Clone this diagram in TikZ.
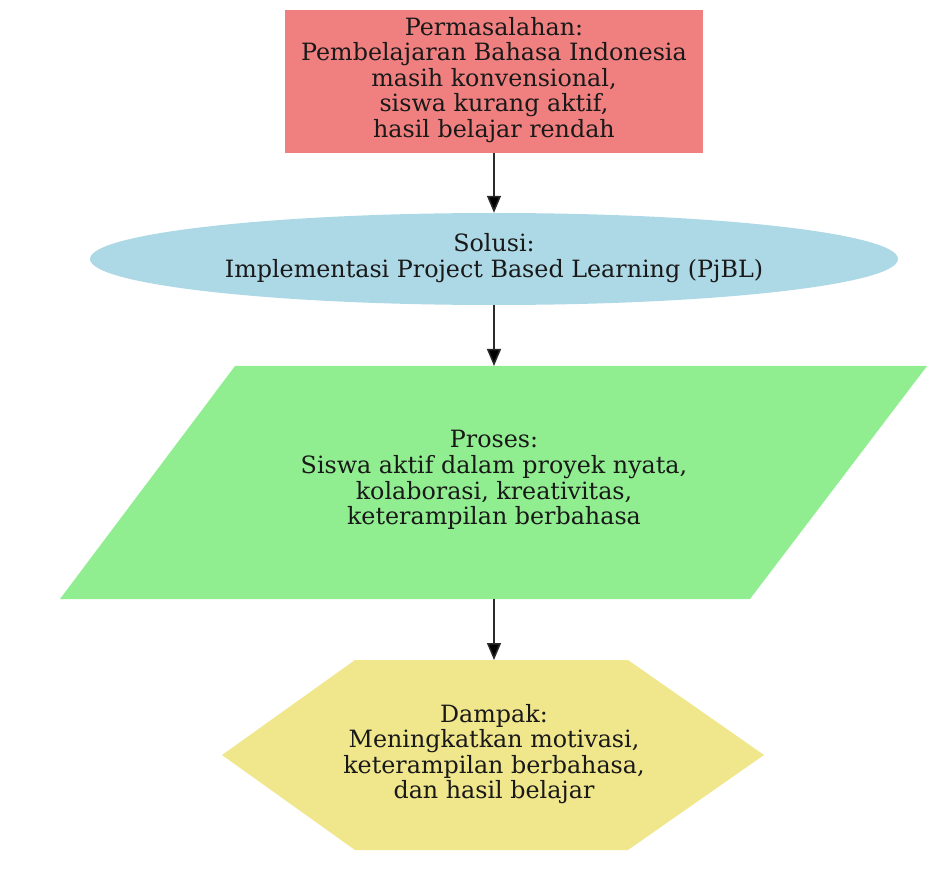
\documentclass[tikz,border=0pt]{standalone}
\usepackage{fontspec}
\setmainfont{DejaVu Serif}
\usetikzlibrary{shapes.geometric,arrows.meta}
\definecolor{boxred}{HTML}{F08080}
\definecolor{ellblue}{HTML}{ADD8E6}
\definecolor{parGreen}{HTML}{90EE90}
\definecolor{hexkhaki}{HTML}{F0E68C}
\definecolor{arrowgray}{HTML}{2A2A2A}
\tikzset{
  lbl/.style={align=center,inner sep=0pt,font=\fontsize{23.8}{25.6}\selectfont,text=black!90},
  conn/.style={draw=arrowgray,line width=1.5pt,-{Triangle[length=17pt,width=14pt,fill=black]}},
}
\begin{document}
\begin{tikzpicture}[x=1pt,y=-1pt]
\useasboundingbox (0,0) rectangle (927,885);
% problem box
\node[rectangle,fill=boxred,minimum width=418pt,minimum height=143pt,inner sep=0pt] (a) at (494,81.5) {};
\node[lbl] (at) at (494,80) {Permasalahan:\\Pembelajaran Bahasa Indonesia\\masih konvensional,\\siswa kurang aktif,\\hasil belajar rendah};
% solution ellipse
\node[ellipse,fill=ellblue,minimum width=808pt,minimum height=92pt,inner sep=0pt] (b) at (494,259) {};
\node[lbl] (bt) at (494,258) {Solusi:\\Implementasi Project Based Learning (PjBL)};
% process parallelogram
\fill[parGreen] (235,366) -- (927,366) -- (750,599) -- (60,599) -- cycle;
\coordinate (ctop) at (494,366);
\coordinate (cbot) at (494,599);
\node[lbl] (ct) at (494,480) {Proses:\\Siswa aktif dalam proyek nyata,\\kolaborasi, kreativitas,\\keterampilan berbahasa};
% impact hexagon
\fill[hexkhaki] (355,660) -- (628,660) -- (764,755) -- (628,850) -- (355,850) -- (222,755) -- cycle;
\coordinate (dtop) at (494,660);
\node[lbl] (dt) at (494,754) {Dampak:\\Meningkatkan motivasi,\\keterampilan berbahasa,\\dan hasil belajar};
% connectors
\draw[conn] (a.south) -- (b.north);
\draw[conn] (b.south) -- (ctop);
\draw[conn] (cbot) -- (dtop);
\end{tikzpicture}
\end{document}
